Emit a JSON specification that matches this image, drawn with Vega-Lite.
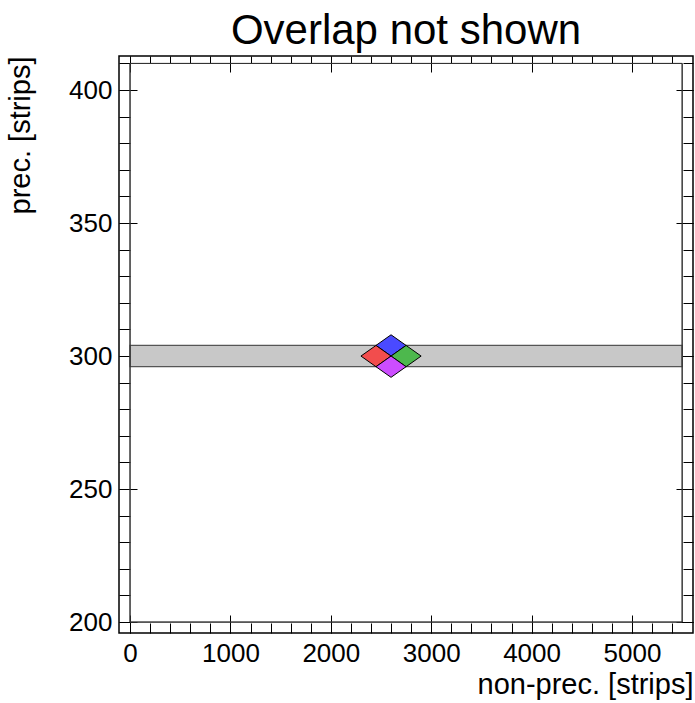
{
  "$schema": "https://vega.github.io/schema/vega-lite/v6.json",
  "width": 574,
  "height": 577,
  "autosize": {"type": "none"},
  "padding": {"left": 119, "top": 56, "right": 2, "bottom": 70},
  "background": "white",
  "title": {"text": "Overlap not shown", "fontSize": 42, "font": "Liberation Sans", "fontWeight": "normal", "anchor": "middle", "frame": "group", "baseline": "alphabetic", "offset": 14, "dy": 44, "color": "black"},
  "config": {
    "view": {"stroke": "black", "strokeWidth": 1.5},
    "axis": {"domain": false, "grid": false, "tickColor": "black", "tickWidth": 1, "labelFont": "Liberation Sans", "labelFontSize": 26, "labelColor": "black", "titleFont": "Liberation Sans", "titleFontSize": 29, "titleFontWeight": "normal", "titleColor": "black", "labelFlush": false, "labelOverlap": false, "zindex": 1, "format": "d"}
  },
  "datasets": {
    "band": [{"x": 0, "x2": 5500, "y": 296, "y2": 304}],
    "frame": [{"x": 0, "x2": 5500, "y": 200, "y2": 410}],
    "diamonds": [
      {"group": "blue", "x": 2600, "y": 304},
      {"group": "red", "x": 2450, "y": 300},
      {"group": "green", "x": 2750, "y": 300},
      {"group": "violet", "x": 2600, "y": 296}
    ]
  },
  "resolve": {"axis": {"x": "independent", "y": "independent"}},
  "layer": [
    {
      "data": {"name": "band"},
      "mark": {"type": "rect", "fill": "#c8c8c8", "stroke": "#555555", "strokeWidth": 1.2},
      "encoding": {
        "x": {"field": "x", "type": "quantitative", "scale": {"domain": [-110, 5608], "nice": false, "zero": false},
          "axis": {"orient": "bottom", "values": [0, 1000, 2000, 3000, 4000, 5000], "tickSize": -18, "labelPadding": 25, "format": "d", "title": "non-prec. [strips]", "titleAnchor": "end", "titlePadding": 4}},
        "x2": {"field": "x2"},
        "y": {"field": "y", "type": "quantitative", "scale": {"domain": [195.9, 412.8], "nice": false, "zero": false},
          "axis": {"orient": "left", "values": [200, 250, 300, 350, 400], "tickSize": -18, "labelPadding": 25, "format": "d", "title": "prec. [strips]", "titleAnchor": "end", "titlePadding": 33}},
        "y2": {"field": "y2"}
      }
    },
    {
      "data": {"name": "frame"},
      "mark": {"type": "rect", "fill": null, "fillOpacity": 0, "stroke": "#333333", "strokeWidth": 1},
      "encoding": {
        "x": {"field": "x", "type": "quantitative", "scale": {"domain": [-110, 5608], "nice": false, "zero": false},
          "axis": {"orient": "top", "values": [0, 1000, 2000, 3000, 4000, 5000], "tickSize": -16, "labels": false, "title": null}},
        "x2": {"field": "x2"},
        "y": {"field": "y", "type": "quantitative", "scale": {"domain": [195.9, 412.8], "nice": false, "zero": false},
          "axis": {"orient": "right", "values": [200, 250, 300, 350, 400], "tickSize": -17, "labels": false, "title": null}},
        "y2": {"field": "y2"}
      }
    },
    {
      "data": {"name": "frame"},
      "mark": {"type": "rect", "fill": null, "fillOpacity": 0, "stroke": "#333333", "strokeWidth": 1},
      "encoding": {
        "x": {"field": "x", "type": "quantitative", "scale": {"domain": [-110, 5608], "nice": false, "zero": false},
          "axis": {"orient": "top", "values": [0, 200, 400, 600, 800, 1000, 1200, 1400, 1600, 1800, 2000, 2200, 2400, 2600, 2800, 3000, 3200, 3400, 3600, 3800, 4000, 4200, 4400, 4600, 4800, 5000, 5200, 5400], "tickSize": -7, "labels": false, "title": null}},
        "x2": {"field": "x2"},
        "y": {"field": "y", "type": "quantitative", "scale": {"domain": [195.9, 412.8], "nice": false, "zero": false},
          "axis": {"orient": "right", "values": [200, 210, 220, 230, 240, 250, 260, 270, 280, 290, 300, 310, 320, 330, 340, 350, 360, 370, 380, 390, 400, 410], "tickSize": -10, "labels": false, "title": null}},
        "y2": {"field": "y2"}
      }
    },
    {
      "data": {"name": "diamonds"},
      "mark": {"type": "point", "shape": "M-1,0L0,-0.707L1,0L0,0.707Z", "size": 906, "filled": true, "opacity": 1, "stroke": "black", "strokeWidth": 1, "strokeOpacity": 1},
      "encoding": {
        "x": {"field": "x", "type": "quantitative", "scale": {"domain": [-110, 5608], "nice": false, "zero": false},
          "axis": {"orient": "bottom", "values": [0, 200, 400, 600, 800, 1000, 1200, 1400, 1600, 1800, 2000, 2200, 2400, 2600, 2800, 3000, 3200, 3400, 3600, 3800, 4000, 4200, 4400, 4600, 4800, 5000, 5200, 5400], "tickSize": -10, "labels": false, "title": null}},
        "y": {"field": "y", "type": "quantitative", "scale": {"domain": [195.9, 412.8], "nice": false, "zero": false},
          "axis": {"orient": "left", "values": [200, 210, 220, 230, 240, 250, 260, 270, 280, 290, 300, 310, 320, 330, 340, 350, 360, 370, 380, 390, 400, 410], "tickSize": -11, "labels": false, "title": null}},
        "fill": {"field": "group", "type": "nominal", "legend": null,
          "scale": {"domain": ["blue", "red", "green", "violet"], "range": ["#4a4aff", "#f24d4d", "#4db84d", "#cc4dff"]}}
      }
    }
  ]
}
